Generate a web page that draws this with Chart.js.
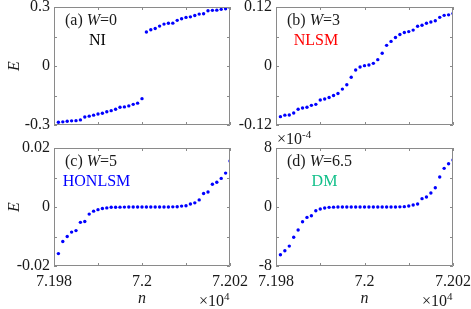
<!DOCTYPE html>
<html><head><meta charset="utf-8">
<script src="https://cdn.jsdelivr.net/npm/chart.js@4"></script>
<style>
html,body{margin:0;padding:0;background:#fff;}
#wrap{position:relative;width:471px;height:309px;overflow:hidden;background:#fff;}
canvas{position:absolute;left:0;top:0;}
</style></head><body>
<div id="wrap">
<canvas id="pa" width="471" height="309"></canvas>
<canvas id="pb" width="471" height="309"></canvas>
<canvas id="pc" width="471" height="309"></canvas>
<canvas id="pd" width="471" height="309"></canvas>
</div>
<script>
// ---- data ----
const nIndex = [71981,71982,71983,71984,71985,71986,71987,71988,71989,71990,
                71991,71992,71993,71994,71995,71996,71997,71998,71999,72000,
                72001,72002,72003,72004,72005,72006,72007,72008,72009,72010,
                72011,72012,72013,72014,72015,72016,72017,72018,72019,72020];
const energyW0 = [-0.286,-0.284,-0.281,-0.279,-0.278,-0.274,-0.259,-0.255,-0.250,-0.244,
                  -0.240,-0.233,-0.227,-0.220,-0.210,-0.208,-0.203,-0.195,-0.189,-0.166,
                  0.173,0.184,0.191,0.203,0.213,0.217,0.218,0.232,0.240,0.247,
                  0.250,0.257,0.264,0.266,0.281,0.283,0.284,0.288,0.291,0.296];
const energyW3 = [-0.103,-0.100,-0.0997,-0.0956,-0.088,-0.0854,-0.084,-0.080,-0.078,-0.069,
                  -0.067,-0.064,-0.060,-0.056,-0.047,-0.038,-0.023,-0.008,-0.002,0.0007,
                  0.002,0.0054,0.0129,0.0258,0.042,0.050,0.058,0.064,0.068,0.070,
                  0.073,0.081,0.083,0.087,0.0895,0.092,0.099,0.103,0.104,0.107];
const energyW5 = [-0.0158,-0.0117,-0.0100,-0.0085,-0.0080,-0.0052,-0.0049,-0.0024,-0.0014,-0.0009,
                  -0.0005,-0.0003,-0.0001,-0.00008,-0.00005,-0.00003,-0.00002,-0.00001,-0.000005,0,
                  0,0,0.000005,0.00001,0.00002,0.00002,0.00005,0.0001,0.0003,0.0004,
                  0.0010,0.0014,0.0024,0.0046,0.0051,0.0077,0.0084,0.0097,0.0115,0.0156];
const energyW65 = [-6.47e-4,-5.93e-4,-5.30e-4,-4.10e-4,-3.12e-4,-1.99e-4,-1.41e-4,-1.18e-4,-0.50e-4,-0.27e-4,
                   -0.14e-4,-0.05e-4,-0.02e-4,-0.01e-4,-0.005e-4,-0.003e-4,-0.002e-4,-0.001e-4,0,0,
                   0,0,0.001e-4,0.002e-4,0.003e-4,0.005e-4,0.01e-4,0.02e-4,0.05e-4,0.14e-4,
                   0.27e-4,0.41e-4,1.13e-4,1.36e-4,1.90e-4,2.62e-4,4.07e-4,5.24e-4,5.87e-4,6.37e-4];
// tick labels
const xTickLabels = [71980, 72000, 72020];
const yTicksW0 = [-0.3, 0, 0.3];
const yTicksW3 = [-0.12, 0, 0.12];
const yTicksW5 = [-0.02, 0, 0.02];
const yTicksW65 = [-8e-4, 0, 8e-4];
const panelTags = ['(a) ', '(b) ', '(c) ', '(d) '];
const disorderW = ['0', '3', '5', '6.5'];
const phaseNames = ['NI', 'NLSM', 'HONLSM', 'DM'];

// ---- styling ----
const SERIF = '"Liberation Serif", "Times New Roman", serif';
const TXT = '#1a1a1a';
const FRAME = '#8a8a8a';
const W = 471, H = 309;

const panels = [
  {id:'pa', vals:energyW0, yt:yTicksW0, L:54, R:230, T:7, B:125, bottom:false, left:true, phaseColor:'#000000', fmt:v=>String(+v.toFixed(2))},
  {id:'pb', vals:energyW3, yt:yTicksW3, L:276, R:453, T:7, B:125, bottom:false, left:false, phaseColor:'#ff0000', fmt:v=>String(+v.toFixed(2))},
  {id:'pc', vals:energyW5, yt:yTicksW5, L:54, R:230, T:148, B:266, bottom:true, left:true, phaseColor:'#0000ff', fmt:v=>String(+v.toFixed(2))},
  {id:'pd', vals:energyW65, yt:yTicksW65, L:276, R:453, T:148, B:266, bottom:true, left:false, phaseColor:'#12c08a', fmt:v=>String(Math.round(v/1e-4)), sci:true}
];

function isLabelled(v, arr, span){
  return arr.some(a => Math.abs(a - v) < span*1e-6);
}

const framePlugin = {
  id:'frame',
  afterDatasetsDraw(chart, args, opts){
    const ctx = chart.ctx, a = chart.chartArea;
    const xs = chart.scales.x, ys = chart.scales.y;
    ctx.save();
    ctx.strokeStyle = FRAME;
    ctx.lineWidth = 1;
    ctx.beginPath();
    ctx.rect(Math.round(a.left)+0.5, Math.round(a.top)+0.5, Math.round(a.right-a.left)-1, Math.round(a.bottom-a.top)-1);
    const tl = 3;
    xs.ticks.forEach(t => {
      const x = Math.round(xs.getPixelForValue(t.value)) + 0.5;
      ctx.moveTo(x, a.bottom); ctx.lineTo(x, a.bottom - tl);
      ctx.moveTo(x, a.top); ctx.lineTo(x, a.top + tl);
    });
    ys.ticks.forEach(t => {
      const y = Math.round(ys.getPixelForValue(t.value)) + 0.5;
      ctx.moveTo(a.left, y); ctx.lineTo(a.left + tl, y);
      ctx.moveTo(a.right, y); ctx.lineTo(a.right - tl, y);
    });
    ctx.stroke();
    ctx.restore();
  },
  afterDraw(chart, args, opts){
    const ctx = chart.ctx, a = chart.chartArea;
    const p = opts.panel;
    ctx.save();
    ctx.textBaseline = 'alphabetic';
    ctx.textAlign = 'left';
    // panel tag "(a) W=0"
    let x = a.left + 11, y = a.top + 18;
    ctx.fillStyle = TXT;
    ctx.font = '16px ' + SERIF;
    ctx.fillText(panelTags[p.idx], x, y);
    x += ctx.measureText(panelTags[p.idx]).width;
    ctx.font = 'italic 16px ' + SERIF;
    ctx.fillText('W', x, y);
    x += ctx.measureText('W').width;
    ctx.font = '16px ' + SERIF;
    ctx.fillText('=' + disorderW[p.idx], x, y);
    // phase name
    ctx.fillStyle = p.phaseColor;
    const pn = phaseNames[p.idx];
    const centers = [97.5, 316, 96.5, 324.5];
    ctx.textAlign = 'center';
    ctx.fillText(pn, centers[p.idx], a.top + 38);
    // exponent labels
    ctx.fillStyle = TXT;
    ctx.textAlign = 'left';
    if (p.bottom) {
      let ex = a.right - 31, ey = 306;
      ctx.font = '16px ' + SERIF;
      ctx.fillText('\u00d710', ex, ey);
      ex += ctx.measureText('\u00d710').width;
      ctx.font = '11px ' + SERIF;
      ctx.fillText('4', ex, ey - 6);
    }
    if (p.sci) {
      let ex = a.left + 1, ey = 144;
      ctx.font = '16px ' + SERIF;
      ctx.fillText('\u00d710', ex, ey);
      ex += ctx.measureText('\u00d710').width;
      ctx.font = '11px ' + SERIF;
      ctx.fillText('-4', ex, ey - 6);
    }
    ctx.restore();
  }
};

panels.forEach((p, idx) => {
  p.idx = idx;
  const yW = p.left ? 54 : 40;
  const xH = p.bottom ? (H - p.B) : 0;
  const ySpan = p.yt[2] - p.yt[0];
  new Chart(document.getElementById(p.id), {
    type:'scatter',
    data:{datasets:[{
      data: nIndex.map((n, i) => ({x:n, y:p.vals[i]})),
      backgroundColor:'#0000ff', borderWidth:0, pointRadius:1.7, pointStyle:'circle'
    }]},
    options:{
      responsive:false, animation:false, events:[],
      layout:{padding:{left:p.L - yW, top:p.T, right:W - p.R, bottom:H - p.B - xH}},
      plugins:{legend:{display:false}, tooltip:{enabled:false}, frame:{panel:p}},
      scales:{
        x:{
          type:'linear', min:xTickLabels[0], max:xTickLabels[2],
          grid:{display:false, drawTicks:false}, border:{display:false},
          ticks:{display:p.bottom, stepSize:10, autoSkip:false, maxRotation:0, padding:6,
                 color:TXT, font:{family:SERIF, size:16},
                 callback:v => isLabelled(v, xTickLabels, 40) ? String(+(v/1e4).toFixed(3)) : ''},
          title:{display:p.bottom, text:'n', color:TXT, padding:{top:0, bottom:1},
                 font:{family:SERIF, size:16, style:'italic'}},
          afterFit:s => { s.height = xH; s.paddingLeft = 0; s.paddingRight = 0; }
        },
        y:{
          type:'linear', min:p.yt[0], max:p.yt[2],
          grid:{display:false, drawTicks:false}, border:{display:false},
          ticks:{stepSize:ySpan/4, autoSkip:false, padding:4, color:TXT,
                 font:{family:SERIF, size:16},
                 callback:v => isLabelled(v, p.yt, ySpan) ? p.fmt(v) : ''},
          title:{display:p.left, text:'E', color:TXT, padding:{top:5, bottom:0},
                 font:{family:SERIF, size:16, style:'italic'}},
          afterFit:s => { s.width = yW; s.paddingTop = 0; s.paddingBottom = 0; }
        }
      }
    },
    plugins:[framePlugin]
  });
});
</script>
</body></html>
